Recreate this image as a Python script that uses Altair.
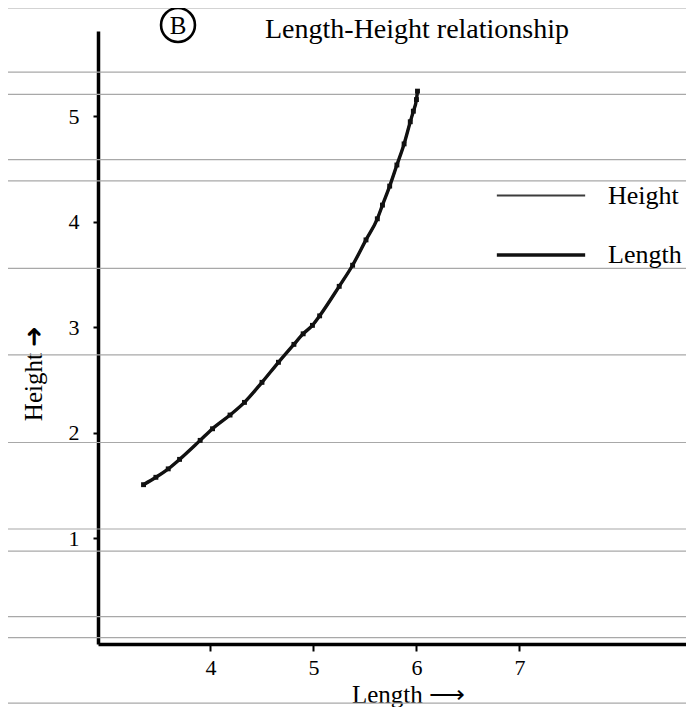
import altair as alt
import pandas as pd

# ---- data ----
length_vals = [3.35, 3.47, 3.59, 3.70, 3.90, 4.02, 4.19, 4.33, 4.50, 4.66, 4.81,
               4.90, 4.99, 5.06, 5.25, 5.38, 5.51, 5.62, 5.67, 5.74, 5.81, 5.88,
               5.94, 5.97, 6.00, 6.01]
height_vals = [1.51, 1.58, 1.66, 1.75, 1.93, 2.04, 2.17, 2.29, 2.48, 2.67, 2.84,
               2.94, 3.02, 3.11, 3.39, 3.59, 3.83, 4.03, 4.16, 4.34, 4.54, 4.74,
               4.95, 5.05, 5.16, 5.24]
series_names = ["Height", "Length"]
x_ticks = [4, 5, 6, 7]
y_ticks = [1, 2, 3, 4, 5]
paper_lines = [6.03, 5.42, 5.21, 4.59, 4.39, 3.56, 2.74, 1.91, 1.09, 0.88, 0.26, 0.06, -0.56]
panel_label = ["B"]
title_text = ["Length-Height relationship"]

rows = []
for s in series_names:
    for xv, yv in zip(length_vals, height_vals):
        rows.append({"series": s, "length": xv, "height": yv})
df = pd.DataFrame(rows)
paper_df = pd.DataFrame({"v": paper_lines})
label_df = pd.DataFrame({"label": panel_label})
title_df = pd.DataFrame({"t": title_text})

W, H = 588, 613
FONT = "Liberation Serif"

xscale = alt.Scale(domain=[2.908, 8.617], nice=False, zero=False)
yscale = alt.Scale(domain=[0, 5.81], nice=False, zero=False)

xaxis = alt.Axis(values=x_ticks, format="d", grid=False, domainColor="black",
                 domainWidth=3.5, tickColor="black", tickWidth=2, tickSize=7,
                 labelFont=FONT, labelFontSize=22, labelColor="black", labelPadding=6,
                 title="Length \u27f6", titleFont=FONT, titleFontSize=25,
                 titleFontWeight="normal", titleColor="black", titleX=310, titleY=50,
                 titleBaseline="middle")
yaxis = alt.Axis(values=y_ticks, format="d", grid=False, domainColor="black",
                 domainWidth=3.5, tickColor="black", tickWidth=2, tickSize=5,
                 labelFont=FONT, labelFontSize=22, labelColor="black", labelPadding=14,
                 labelBaseline="middle",
                 title="Height \u279c", titleFont=FONT, titleFontSize=25,
                 titleFontWeight="normal", titleColor="black", titleX=-65, titleY=342,
                 titleAngle=270, titleAlign="center", titleBaseline="middle")

paper = alt.Chart(paper_df).mark_rule(color="#a8a8a8", strokeWidth=1.2).encode(
    y=alt.Y("v:Q", scale=yscale, axis=yaxis),
    x=alt.value(-92),
    x2=alt.value(W + 10),
)

legend = alt.Legend(title=None, orient="none", legendX=397, legendY=119,
                    symbolType="stroke", symbolSize=7800, labelFont=FONT,
                    labelFontSize=26, labelColor="black", labelOffset=21,
                    rowPadding=-6)

lines = alt.Chart(df).mark_line(interpolate="monotone").encode(
    x=alt.X("length:Q", scale=xscale, axis=xaxis),
    y=alt.Y("height:Q", scale=yscale, axis=yaxis),
    color=alt.Color("series:N", scale=alt.Scale(domain=series_names, range=["#3c3c3c", "#111111"]),
                    legend=legend),
    strokeWidth=alt.StrokeWidth("series:N", scale=alt.Scale(domain=series_names, range=[2.2, 3.4]),
                                legend=legend),
    order=alt.Order("length:Q"),
)

marks = alt.Chart(df[df["series"] == "Height"]).mark_point(
    shape="square", filled=True, size=24, color="#111111", opacity=1
).encode(
    x=alt.X("length:Q", scale=xscale),
    y=alt.Y("height:Q", scale=yscale),
)

circle = alt.Chart(label_df).mark_point(shape="circle", size=1150, filled=False,
                                        color="black", strokeWidth=2.6, opacity=1).encode(
    x=alt.value(80), y=alt.value(-6))
btext = alt.Chart(label_df).mark_text(font=FONT, fontSize=25, color="black",
                                      baseline="middle", align="center").encode(
    text="label:N", x=alt.value(80), y=alt.value(-5))
title = alt.Chart(title_df).mark_text(font=FONT, fontSize=28, color="black",
                                      baseline="alphabetic", align="left").encode(
    text="t:N", x=alt.value(167), y=alt.value(7))

chart = alt.layer(paper, lines, marks, circle, btext, title).properties(
    width=W, height=H,
    background="white",
    padding={"left": 90, "top": 23, "right": 0, "bottom": 63},
    autosize=alt.AutoSizeParams(type="none"),
).configure_view(stroke=None)

chart.save("out.html", embed_options={"renderer": "svg", "actions": False})
